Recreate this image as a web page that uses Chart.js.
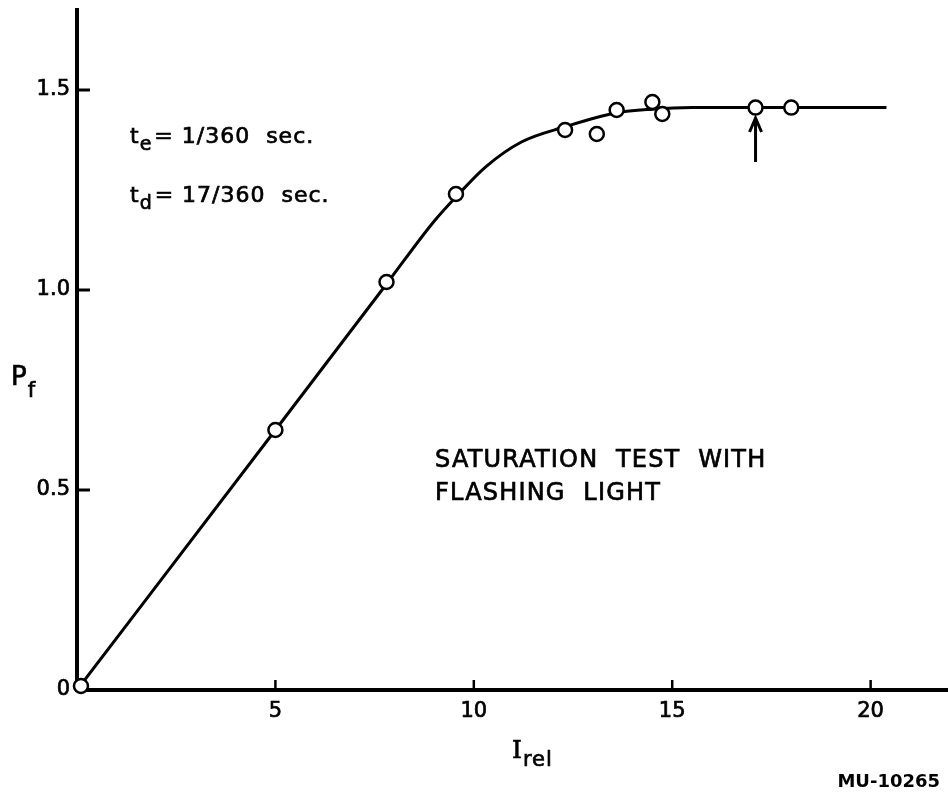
<!DOCTYPE html>
<html>
<head>
<meta charset="utf-8">
<script src="https://cdn.jsdelivr.net/npm/chart.js@4.4.1/dist/chart.umd.min.js"></script>
<style>
  html, body { margin: 0; padding: 0; background: #fff; }
  #wrap { width: 948px; height: 797px; }
</style>
</head>
<body>
<div id="wrap"><canvas id="saturationChart" width="948" height="797"></canvas></div>
<script>
// measured points (open circles)
const intensity = [0.1, 5.0, 7.8, 9.55, 12.3, 13.1, 13.6, 14.5, 14.75, 17.1, 18.0];
const flashYield = [0.01, 0.65, 1.02, 1.24, 1.40, 1.39, 1.45, 1.47, 1.44, 1.456, 1.456];

// hand-drawn fitted curve
const curveX = [0, 5, 7.8, 9.0, 9.6, 10.3, 11.2, 12.3, 13.6, 14.5, 15.5, 17, 20.4];
const curveY = [0, 0.65, 1.015, 1.172, 1.238, 1.308, 1.37, 1.408, 1.443, 1.452, 1.456, 1.456, 1.456];

// axis ticks
const xTicks = [5, 10, 15, 20];
const yTicks = [0, 0.5, 1.0, 1.5];

// arrow marking the chosen intensity
const arrowX = 17.1;
const arrowFrom = 1.32;
const arrowTo = 1.43;

const FONT = '"DejaVu Sans", sans-serif';

// draws inward tick marks, the arrow and the lettering
const annotations = {
    id: 'annotations',
    afterDraw(chart) {
        const ctx = chart.ctx;
        const xs = chart.scales.x;
        const ys = chart.scales.y;
        ctx.save();
        ctx.strokeStyle = '#000';
        ctx.fillStyle = '#000';
        ctx.lineCap = 'butt';

        // tick marks pointing into the plot
        ctx.lineWidth = 2.5;
        xTicks.forEach(v => {
            const px = xs.getPixelForValue(v);
            ctx.beginPath();
            ctx.moveTo(px, ys.bottom);
            ctx.lineTo(px, ys.bottom - 10);
            ctx.stroke();
        });
        ctx.lineWidth = 3;
        yTicks.forEach(v => {
            if (v === 0) return;
            const py = ys.getPixelForValue(v);
            ctx.beginPath();
            ctx.moveTo(xs.left, py);
            ctx.lineTo(xs.left + 13, py);
            ctx.stroke();
        });

        // arrow
        const ax = xs.getPixelForValue(arrowX);
        const ay0 = ys.getPixelForValue(arrowFrom);
        const ay1 = ys.getPixelForValue(arrowTo);
        ctx.lineWidth = 3;
        ctx.beginPath();
        ctx.moveTo(ax, ay0);
        ctx.lineTo(ax, ay1);
        ctx.moveTo(ax - 6, ay1 + 14);
        ctx.lineTo(ax, ay1);
        ctx.lineTo(ax + 6, ay1 + 14);
        ctx.stroke();

        // lettering (thin stroke to get the heavier pen weight)
        ctx.textBaseline = 'alphabetic';
        ctx.textAlign = 'left';
        ctx.lineWidth = 0.7;
        const write = (txt, x, y) => {
            ctx.fillText(txt, x, y);
            ctx.strokeText(txt, x, y);
        };
        const sub = (main, mainFont, s, rest, x, y, size, subSize, drop) => {
            ctx.font = size + 'px ' + mainFont;
            write(main, x, y);
            let w = x + ctx.measureText(main).width;
            ctx.font = subSize + 'px ' + FONT;
            write(s, w, y + drop);
            w += ctx.measureText(s).width;
            if (rest) {
                ctx.font = size + 'px ' + FONT;
                write(rest, w + 2, y);
            }
        };
        ctx.letterSpacing = '1px';
        sub('t', FONT, 'e', '= 1/360  sec.', 130, 143, 22, 19, 7);
        sub('t', FONT, 'd', '= 17/360  sec.', 130, 202, 22, 19, 7);
        sub('P', FONT, 'f', '', 11, 385, 26, 21, 12);
        sub('I', '"DejaVu Serif", serif', 'rel', '', 512, 758, 25, 21, 8);

        ctx.font = '24px ' + FONT;
        ctx.letterSpacing = '1.2px';
        write('SATURATION  TEST  WITH', 435, 467);
        write('FLASHING  LIGHT', 435, 500);

        ctx.letterSpacing = '0px';
        ctx.font = 'bold 18px ' + FONT;
        ctx.textAlign = 'right';
        ctx.fillText('MU-10265', 940, 787);
        ctx.restore();
    }
};

const config = {
    type: 'scatter',
    data: {
        datasets: [{
            type: 'scatter',
            label: 'Measured',
            data: intensity.map((x, i) => ({ x: x, y: flashYield[i] })),
            pointRadius: 7,
            pointBorderWidth: 2.5,
            pointBackgroundColor: '#fff',
            pointBorderColor: '#000',
            clip: false,
            order: 0,
        }, {
            type: 'line',
            label: 'Fit',
            data: curveX.map((x, i) => ({ x: x, y: curveY[i] })),
            borderColor: '#000',
            borderWidth: 3,
            pointRadius: 0,
            cubicInterpolationMode: 'monotone',
            fill: false,
            order: 1,
        }]
    },
    options: {
        responsive: false,
        animation: false,
        devicePixelRatio: 1,
        layout: { autoPadding: false, padding: { top: 10, right: 0, left: 0, bottom: 0 } },
        plugins: {
            legend: { display: false },
            tooltip: { enabled: false },
        },
        scales: {
            x: {
                type: 'linear',
                min: 0,
                max: 21.95,
                afterBuildTicks: scale => { scale.ticks = xTicks.map(v => ({ value: v })); },
                afterFit: scale => {
                    scale.height = 107;
                    scale.paddingLeft = 0;
                    scale.paddingRight = 0;
                },
                grid: { display: false, drawTicks: false },
                border: { display: true, color: '#000', width: 4 },
                ticks: {
                    color: '#000',
                    padding: 9,
                    maxRotation: 0,
                    textStrokeColor: '#000',
                    textStrokeWidth: 0.7,
                    font: { family: FONT, size: 21 },
                    callback: v => String(v),
                },
            },
            y: {
                type: 'linear',
                min: 0,
                max: 1.70,
                afterBuildTicks: scale => { scale.ticks = yTicks.map(v => ({ value: v })); },
                afterFit: scale => {
                    scale.width = 77;
                    scale.paddingTop = 0;
                    scale.paddingBottom = 0;
                },
                grid: { display: false, drawTicks: false },
                border: { display: true, color: '#000', width: 4 },
                ticks: {
                    color: '#000',
                    padding: 7,
                    textStrokeColor: '#000',
                    textStrokeWidth: 0.7,
                    font: { family: FONT, size: 21 },
                    callback: v => (v === 0 ? '0' : v.toFixed(1)),
                },
            },
        },
    },
    plugins: [annotations],
};

const ctx = document.getElementById('saturationChart').getContext('2d');
const saturationChart = new Chart(ctx, config);
</script>
</body>
</html>
